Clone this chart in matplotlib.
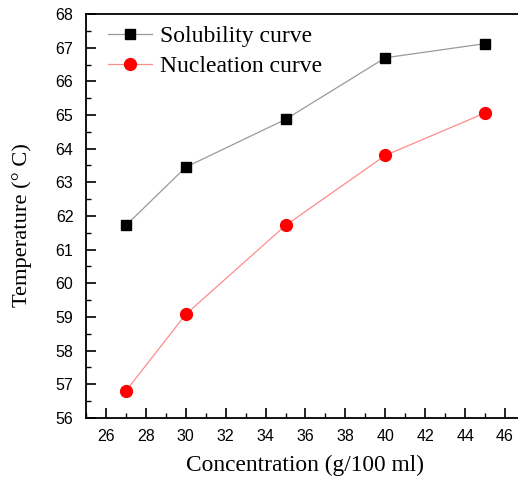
import matplotlib
matplotlib.use("Agg")
import matplotlib.pyplot as plt
from matplotlib.ticker import MultipleLocator

conc = [27, 30, 35, 40, 45]
solubility = [61.72, 63.45, 64.87, 66.70, 67.12]
nucleation = [56.80, 59.08, 61.72, 63.80, 65.06]
xticks = list(range(26, 47, 2))
yticks = list(range(56, 69, 1))

fig = plt.figure(figsize=(5.18, 4.83), dpi=100)
ax = fig.add_axes([0.166, 0.1346, 0.8475, 0.8364])

ax.plot(conc, solubility, color="#9a9a9a", lw=0.9, marker="s", ms=7,
        mfc="black", mec="black", label="Solubility curve")
ax.plot(conc, nucleation, color="#ff8c8c", lw=0.9, marker="o", ms=8.5,
        mfc="red", mec="red", label="Nucleation curve")

ax.set_xlim(25, 47)
ax.set_ylim(56, 68)
ax.set_xticks(xticks)
ax.set_yticks(yticks)
ax.xaxis.set_minor_locator(MultipleLocator(1))
ax.yaxis.set_minor_locator(MultipleLocator(0.5))
ax.tick_params(which="major", direction="in", length=7, width=1.2, labelsize=11.5,
               top=False, right=False)
ax.tick_params(axis="x", which="major", pad=8)
ax.tick_params(axis="y", which="major", pad=9)
ax.tick_params(which="minor", direction="in", length=3.5, width=1.0, top=False, right=False)
for lab in ax.get_xticklabels() + ax.get_yticklabels():
    lab.set_fontfamily("Liberation Sans")
for s in ax.spines.values():
    s.set_linewidth(1.3)

ax.set_xlabel("Concentration (g/100 ml)", fontfamily="Liberation Serif", fontsize=16.8, labelpad=8)
ax.set_ylabel("Temperature (° C)", fontfamily="Liberation Serif", fontsize=16.2, labelpad=10)
ax.yaxis.set_label_coords(-0.123, 0.478)

leg = ax.legend(loc="upper left", frameon=False, prop={"family": "Liberation Serif", "size": 17},
                handlelength=1.86, borderaxespad=0.1, labelspacing=0.36, handletextpad=0.34,
                bbox_to_anchor=(0.024, 1.0))

fig.savefig("out.png", dpi=100)
